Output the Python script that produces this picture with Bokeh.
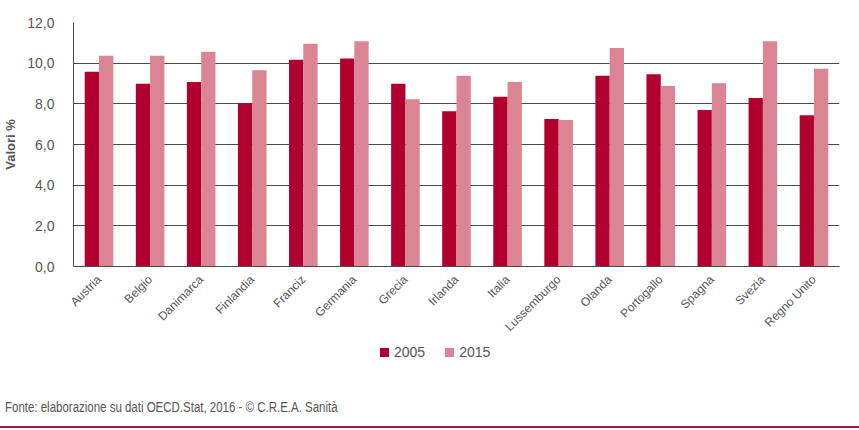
from bokeh.plotting import figure
from bokeh.models import (ColumnDataSource, FactorRange, Range1d, CustomJSTickFormatter,
                          FixedTicker, Div)
from bokeh.layouts import column
from bokeh.transform import dodge
from bokeh.embed import file_html
from bokeh.resources import INLINE

paesi = ["Austria", "Belgio", "Danimarca", "Finlandia", "Franciz", "Germania", "Grecia",
         "Irlanda", "Italia", "Lussemburgo", "Olanda", "Portogallo", "Spagna", "Svezia",
         "Regno Unito"]
v2005 = [9.58, 8.99, 9.07, 8.03, 10.17, 10.23, 8.99, 7.64, 8.35, 7.25, 9.38, 9.45, 7.70, 8.29, 7.44]
v2015 = [10.36, 10.36, 10.56, 9.65, 10.95, 11.08, 8.23, 9.38, 9.07, 7.20, 10.75, 8.88, 9.01, 11.08, 9.73]
anni = ["2005", "2015"]
yticks = [0, 2, 4, 6, 8, 10, 12]
fonte = "Fonte: elaborazione su dati OECD.Stat, 2016 - \u00a9 C.R.E.A. Sanit\u00e0"

C05 = "#b1002f"
C15 = "#da8494"
FONT = "Liberation Sans"
GRAY = "#555555"

src = ColumnDataSource(dict(paese=paesi, v2005=v2005, v2015=v2015))

W = 859
p = figure(width=W, height=341, x_range=FactorRange(*paesi), y_range=Range1d(0, 12),
           output_backend="svg", toolbar_location=None,
           min_border_left=73, min_border_right=20, min_border_top=22, min_border_bottom=74)
p.outline_line_color = None

p.vbar(x=dodge("paese", -0.14, range=p.x_range), top="v2005", width=0.28, source=src,
       fill_color=C05, line_color=None)
p.vbar(x=dodge("paese", 0.14, range=p.x_range), top="v2015", width=0.28, source=src,
       fill_color=C15, line_color=None)

p.xgrid.grid_line_color = None
p.ygrid.grid_line_color = "#4a4a4a"
p.ygrid.grid_line_width = 1
p.yaxis.ticker = FixedTicker(ticks=yticks)
p.yaxis.formatter = CustomJSTickFormatter(code="return tick.toFixed(1).replace('.', ',');")
p.yaxis.major_tick_line_color = None
p.yaxis.minor_tick_line_color = None
p.yaxis.axis_line_color = "#4a4a4a"
p.yaxis.major_label_text_font = FONT
p.yaxis.major_label_text_font_size = "14px"
p.yaxis.major_label_text_color = GRAY
p.yaxis.major_label_standoff = 13
p.yaxis.axis_label = "Valori %"
p.yaxis.axis_label_text_font = FONT
p.yaxis.axis_label_text_font_style = "bold"
p.yaxis.axis_label_text_font_size = "13px"
p.yaxis.axis_label_text_color = GRAY
p.yaxis.axis_label_standoff = 6

p.xaxis.major_tick_line_color = None
p.xaxis.minor_tick_line_color = None
p.xaxis.axis_line_color = "#4a4a4a"
p.xaxis.major_label_orientation = 0.785
p.xaxis.major_label_text_font = FONT
p.xaxis.major_label_text_font_size = "12px"
p.xaxis.major_label_text_color = GRAY
p.xaxis.major_label_standoff = 5

def swatch(color):
    return ('<span style="display:inline-block;width:9px;height:9px;background:%s;'
            'margin-right:5px;vertical-align:0px"></span>' % color)

legend_html = ('<div style="font-family:\'Liberation Sans\';font-size:14px;color:%s;'
               'white-space:nowrap;line-height:22px;padding-left:380px">'
               '%s%s<span style="display:inline-block;width:20px"></span>%s%s</div>'
               % (GRAY, swatch(C05), anni[0], swatch(C15), anni[1]))
legend_div = Div(text=legend_html, width=W, height=22, margin=0)

foot_div = Div(text=('<div style="font-family:\'Liberation Sans\';font-size:14px;color:%s;'
                     'white-space:nowrap;padding-top:34px;padding-left:5px">'
                     '<span style="display:inline-block;transform:scaleX(0.82);'
                     'transform-origin:left center">%s</span></div>'
                     % (GRAY, fonte)),
               width=W, height=63, margin=0)

line_div = Div(width=W, height=2, margin=0, styles={"background-color": "#9c1d50"})

layout = column(p, legend_div, foot_div, line_div, spacing=0)
open("out.html", "w").write(file_html(layout, INLINE))
